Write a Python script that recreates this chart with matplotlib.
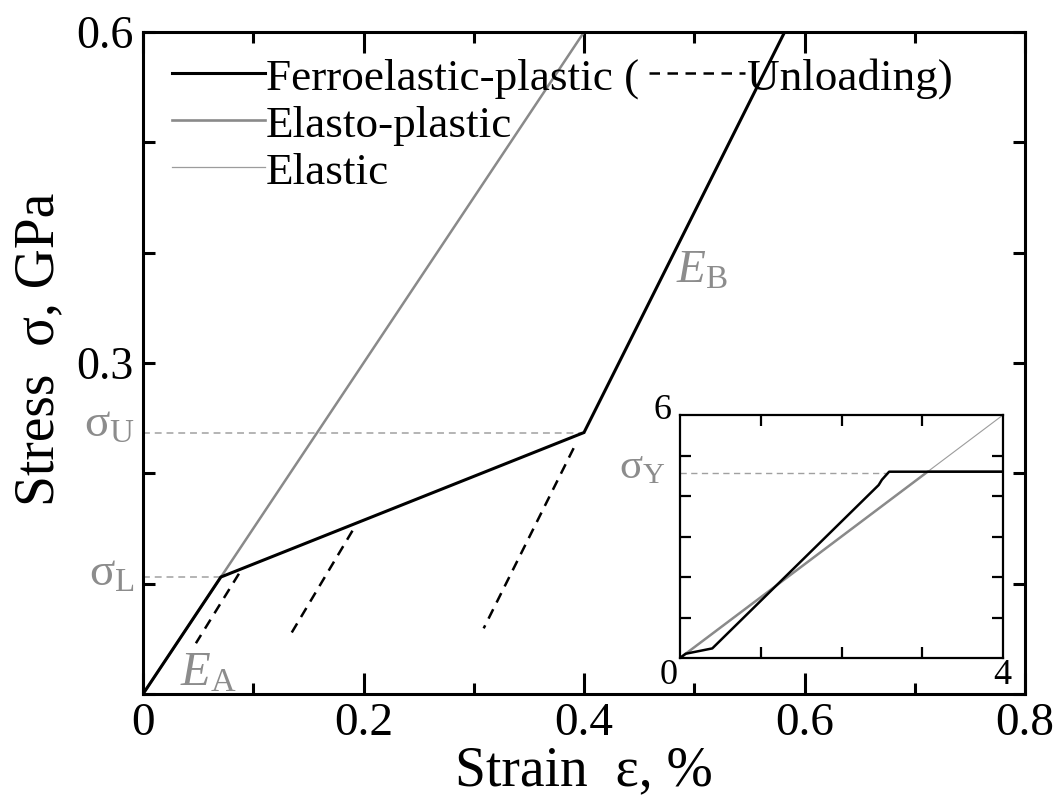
import matplotlib
matplotlib.use("Agg")
import matplotlib.pyplot as plt
from matplotlib.ticker import FixedLocator, NullFormatter

plt.rcParams['font.family'] = ['Liberation Serif', 'DejaVu Serif']
plt.rcParams['mathtext.fontset'] = 'custom'
plt.rcParams['mathtext.rm'] = 'Liberation Serif'
plt.rcParams['mathtext.it'] = 'Liberation Serif:italic'
plt.rcParams['mathtext.bf'] = 'Liberation Serif:bold'

# ---------------- data (main panel: strain %, stress GPa) ----------------
elastic_strain = [0.0, 0.4]
elastic_stress = [0.0, 0.6]

elastoplastic_strain = [0.0, 3.067, 4.0]
elastoplastic_stress = [0.0, 4.6, 4.6]

ferro_strain = [0.0, 0.0706, 0.40, 0.582]
ferro_stress = [0.0, 0.106, 0.237, 0.60]

unload1_strain = [0.087, 0.048]
unload1_stress = [0.109, 0.046]
unload2_strain = [0.190, 0.1336]
unload2_stress = [0.148, 0.0535]
unload3_strain = [0.3906, 0.309]
unload3_stress = [0.2228, 0.0595]

sigma_L = 0.106
sigma_U = 0.237
sigma_L_strain = 0.0706
sigma_U_strain = 0.40

# inset data
inset_elastic_strain = [0.0, 4.0]
inset_elastic_stress = [0.0, 6.0]
inset_ferro_strain = [0.0, 0.07, 0.40, 2.46, 2.50, 2.59, 4.0]
inset_ferro_stress = [0.0, 0.105, 0.237, 4.27, 4.40, 4.60, 4.60]
sigma_Y = 4.58
sigma_Y_strain = 2.55

x_major = [0, 0.2, 0.4, 0.6, 0.8]
x_major_labels = ['0', '0.2', '0.4', '0.6', '0.8']
x_minor = [0.1, 0.3, 0.5, 0.7]
y_major = [0, 0.3, 0.6]
y_major_labels = ['', '0.3', '0.6']
y_minor = [0.1, 0.2, 0.4, 0.5]
inset_xticks = [1, 2, 3]
inset_yticks = [1, 2, 3, 4, 5]

# ---------------- figure ----------------
W, H = 1062, 811
fig = plt.figure(figsize=(W / 100, H / 100), dpi=100)
ax = fig.add_axes([143 / W, 1 - 694 / H, (1025 - 143) / W, (694 - 32) / H])

BLACK = 'black'
GRAY_EP = '#8a8a8a'
GRAY_E = '#9c9c9c'
GRAY_LBL = '#8c8c8c'
GRAY_REF = '#a0a0a0'

# reference dashed lines
ax.plot([0, sigma_L_strain], [sigma_L, sigma_L], color=GRAY_REF, lw=1.1,
        linestyle=(0, (4.5, 3.2)))
ax.plot([0, sigma_U_strain + 0.005], [sigma_U, sigma_U], color=GRAY_REF, lw=1.1,
        linestyle=(0, (4.5, 3.2)))

ax.plot(elastic_strain, elastic_stress, color=GRAY_E, lw=0.8)
ax.plot(elastoplastic_strain, elastoplastic_stress, color=GRAY_EP, lw=1.8)
ax.plot(ferro_strain, ferro_stress, color=BLACK, lw=2.2, solid_joinstyle='miter')
for xs, ys in [(unload1_strain, unload1_stress),
               (unload2_strain, unload2_stress),
               (unload3_strain, unload3_stress)]:
    ax.plot(xs, ys, color=BLACK, lw=1.8, linestyle=(0, (4.2, 3.0)))

ax.set_xlim(0, 0.8)
ax.set_ylim(0, 0.6)

ax.xaxis.set_major_locator(FixedLocator(x_major))
ax.xaxis.set_minor_locator(FixedLocator(x_minor))
ax.set_xticklabels(x_major_labels)
ax.yaxis.set_major_locator(FixedLocator(y_major))
ax.yaxis.set_minor_locator(FixedLocator(y_minor))
ax.set_yticklabels(y_major_labels)
ax.xaxis.set_minor_formatter(NullFormatter())
ax.yaxis.set_minor_formatter(NullFormatter())

ax.tick_params(axis='x', which='major', direction='in', length=15, width=2.2,
               top=True, bottom=True, labelsize=34, pad=6)
ax.tick_params(axis='x', which='minor', direction='in', length=8, width=2.2,
               top=True, bottom=True)
ax.tick_params(axis='y', which='both', direction='in', length=8.6, width=2.2,
               left=True, right=True, labelsize=33, pad=7)
for s in ax.spines.values():
    s.set_linewidth(2.2)

ax.set_xlabel('Strain  ε, %', fontsize=40)
ax.xaxis.set_label_coords(0.5, -0.078)
ax.set_ylabel('Stress  σ, GPa', fontsize=40)
ax.yaxis.set_label_coords(-0.088, 0.52)

# annotations
ax.text(-0.0535, 0.233, r'$\mathrm{\sigma}_{\mathrm{U}}$', color=GRAY_LBL,
        fontsize=34, ha='left', va='baseline', clip_on=False)
ax.text(-0.049, 0.0985, r'$\mathrm{\sigma}_{\mathrm{L}}$', color=GRAY_LBL,
        fontsize=34, ha='left', va='baseline', clip_on=False)
ax.text(0.0336, 0.008, r'$E_{\mathrm{A}}$', color=GRAY_LBL, fontsize=35,
        ha='left', va='baseline')
ax.text(0.4834, 0.3726, r'$E_{\mathrm{B}}$', color=GRAY_LBL, fontsize=34,
        ha='left', va='baseline')

# manual legend (axes fraction)
def fx(px):
    return (px - 143) / (1025 - 143)

def fy(py):
    return (694 - py) / (694 - 32)

leg_rows = [(73, 90, BLACK, 2.2, 'Ferroelastic-plastic ('),
            (120, 137, GRAY_EP, 1.9, 'Elasto-plastic'),
            (167, 184, GRAY_E, 0.9, 'Elastic')]
for ly, by, col, lw, lab in leg_rows:
    ax.plot([fx(172), fx(265)], [fy(ly), fy(ly)], color=col, lw=lw,
            transform=ax.transAxes)
    ax.text(fx(266), fy(by), lab, fontsize=32.5, ha='left', va='baseline',
            transform=ax.transAxes)
ax.plot([fx(649), fx(745)], [fy(73), fy(73)], color=BLACK, lw=1.8,
        linestyle=(0, (4.2, 3.0)), transform=ax.transAxes)
ax.text(fx(747), fy(90), 'Unloading)', fontsize=32.5, ha='left', va='baseline',
        transform=ax.transAxes)

# ---------------- inset ----------------
ins = fig.add_axes([680 / W, 1 - 658 / H, (1003 - 680) / W, (658 - 415) / H])
ins.plot([0, sigma_Y_strain], [sigma_Y, sigma_Y], color=GRAY_REF, lw=1.0,
         linestyle=(0, (4.5, 3.2)))
ins.plot(inset_elastic_strain, inset_elastic_stress, color=GRAY_E, lw=0.8)
ins.plot(elastoplastic_strain, elastoplastic_stress, color=GRAY_EP, lw=1.8)
ins.plot(inset_ferro_strain, inset_ferro_stress, color=BLACK, lw=1.8)
ins.set_xlim(0, 4)
ins.set_ylim(0, 6)
ins.set_xticks(inset_xticks)
ins.set_yticks(inset_yticks)
ins.tick_params(which='both', direction='in', length=8, width=1.6,
                top=True, bottom=True, left=True, right=True,
                labelbottom=False, labelleft=False)
for s in ins.spines.values():
    s.set_linewidth(1.6)
ins.text(-0.1, 6.1, '6', fontsize=26, ha='right', va='center', clip_on=False)
ins.text(-0.03, -0.44, '0', fontsize=26, ha='right', va='center', clip_on=False)
ins.text(3.99, -0.44, '4', fontsize=26, ha='center', va='center', clip_on=False)
ins.text(-0.76, 4.44, r'$\mathrm{\sigma}_{\mathrm{Y}}$', color=GRAY_LBL,
         fontsize=31, ha='left', va='baseline', clip_on=False)

fig.savefig('out.png', dpi=100)
